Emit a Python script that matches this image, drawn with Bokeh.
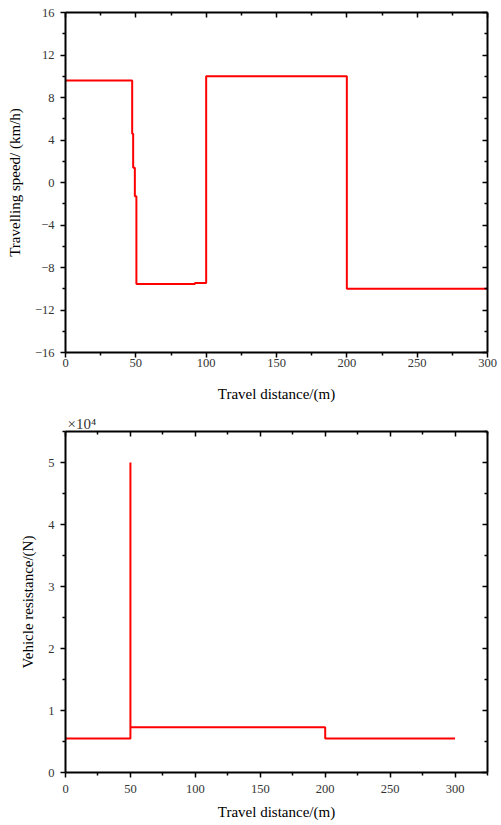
from bokeh.plotting import figure
from bokeh.models import Range1d, LinearAxis, FixedTicker, Title, CustomJSTickFormatter
from bokeh.layouts import column
from bokeh.embed import file_html
from bokeh.resources import INLINE

# ---------------- data ----------------
# Top chart: travelling speed vs travel distance (stepwise profile)
speed_distance = [0, 47.4, 47.4, 48.1, 48.1, 49.3, 49.3, 50.4, 50.4, 92, 92, 100, 100, 200, 200, 300]
speed_kmh = [9.6, 9.6, 4.6, 4.6, 1.4, 1.4, -1.3, -1.3, -9.55, -9.55, -9.45, -9.45, 10, 10, -10, -10]
speed_ticks = [-16, -12, -8, -4, 0, 4, 8, 12, 16]
speed_minor = [-14, -10, -6, -2, 2, 6, 10, 14]
dist_ticks_top = [0, 50, 100, 150, 200, 250, 300]
dist_minor_top = [25, 75, 125, 175, 225, 275]

# Bottom chart: vehicle resistance (x10^4 N) vs travel distance
res_distance = [0, 50, 50, 50, 200, 200, 300]
resistance_1e4 = [0.55, 0.55, 5.0, 0.73, 0.73, 0.55, 0.55]
res_ticks = [0, 1, 2, 3, 4, 5]
res_minor = [0.5, 1.5, 2.5, 3.5, 4.5, 5.5]
dist_ticks_bot = [0, 50, 100, 150, 200, 250, 300]
dist_minor_bot = [25, 75, 125, 175, 225, 275, 325]

FONT = "Liberation Serif"
TICK_COLOR = "#333333"


def style_axis(ax, tick_out, standoff, label_standoff):
    ax.axis_line_width = 2
    ax.axis_line_color = "black"
    ax.major_tick_line_width = 1.5
    ax.minor_tick_line_width = 1.5
    ax.major_tick_line_color = "black"
    ax.minor_tick_line_color = "black"
    ax.major_tick_out = tick_out
    ax.major_tick_in = 0
    ax.minor_tick_out = 3
    ax.minor_tick_in = 0
    ax.major_label_text_font = FONT
    ax.major_label_text_font_size = "12.5px"
    ax.major_label_text_color = TICK_COLOR
    ax.major_label_standoff = standoff
    ax.axis_label_text_font = FONT
    ax.axis_label_text_font_size = "15px"
    ax.axis_label_text_font_style = "normal"
    ax.axis_label_text_color = "black"
    ax.axis_label_standoff = label_standoff


def mirror_axis(ticker):
    ax = LinearAxis(ticker=ticker, formatter=CustomJSTickFormatter(code="return ''"))
    ax.axis_line_width = 2
    ax.axis_line_color = "black"
    ax.major_tick_line_width = 1.5
    ax.minor_tick_line_width = 1.5
    ax.major_tick_in = 5
    ax.major_tick_out = 0
    ax.minor_tick_in = 3
    ax.minor_tick_out = 0
    ax.major_label_standoff = 0
    return ax


def make_fig(height, x_end, y_start, y_end, xt, xm, yt, ym, border_top, border_bottom, border_right,
             x_standoff, x_label_standoff, xlabel, ylabel):
    p = figure(width=501, height=height, output_backend="svg", toolbar_location=None, title=None,
               x_range=Range1d(0, x_end), y_range=Range1d(y_start, y_end),
               min_border_left=65, min_border_right=border_right,
               min_border_top=border_top, min_border_bottom=border_bottom)
    p.outline_line_color = None
    p.xgrid.visible = False
    p.ygrid.visible = False
    p.background_fill_color = "white"
    p.border_fill_color = "white"
    xtick = FixedTicker(ticks=xt, minor_ticks=xm)
    ytick = FixedTicker(ticks=yt, minor_ticks=ym)
    p.xaxis.ticker = xtick
    p.yaxis.ticker = ytick
    p.xaxis.axis_label = xlabel
    p.yaxis.axis_label = ylabel
    style_axis(p.xaxis[0], 5, x_standoff, x_label_standoff)
    style_axis(p.yaxis[0], 5, 6, 9)
    p.add_layout(mirror_axis(FixedTicker(ticks=xt, minor_ticks=xm)), "above")
    p.add_layout(mirror_axis(FixedTicker(ticks=yt, minor_ticks=ym)), "right")
    return p


p1 = make_fig(404, 300, -16, 16, dist_ticks_top, dist_minor_top, speed_ticks, speed_minor,
              12, 52, 14, 1, 16, "Travel distance/(m)", "Travelling speed/ (km/h)")
p1.line(speed_distance, speed_kmh, line_color="#ff0000", line_width=2)

p2 = make_fig(421, 325, 0, 5.5, dist_ticks_bot, dist_minor_bot, res_ticks, res_minor,
              27, 53, 13, 7, 8, "Travel distance/(m)", "Vehicle resistance/(N)")
p2.line(res_distance, resistance_1e4, line_color="#ff0000", line_width=2)
p2.add_layout(Title(text="×10⁴", align="left", offset=2, standoff=0,
                    text_font=FONT, text_font_size="15px", text_color=TICK_COLOR,
                    text_font_style="normal"), "above")

layout = column(p1, p2, spacing=0)
open("out.html", "w").write(file_html(layout, INLINE))
